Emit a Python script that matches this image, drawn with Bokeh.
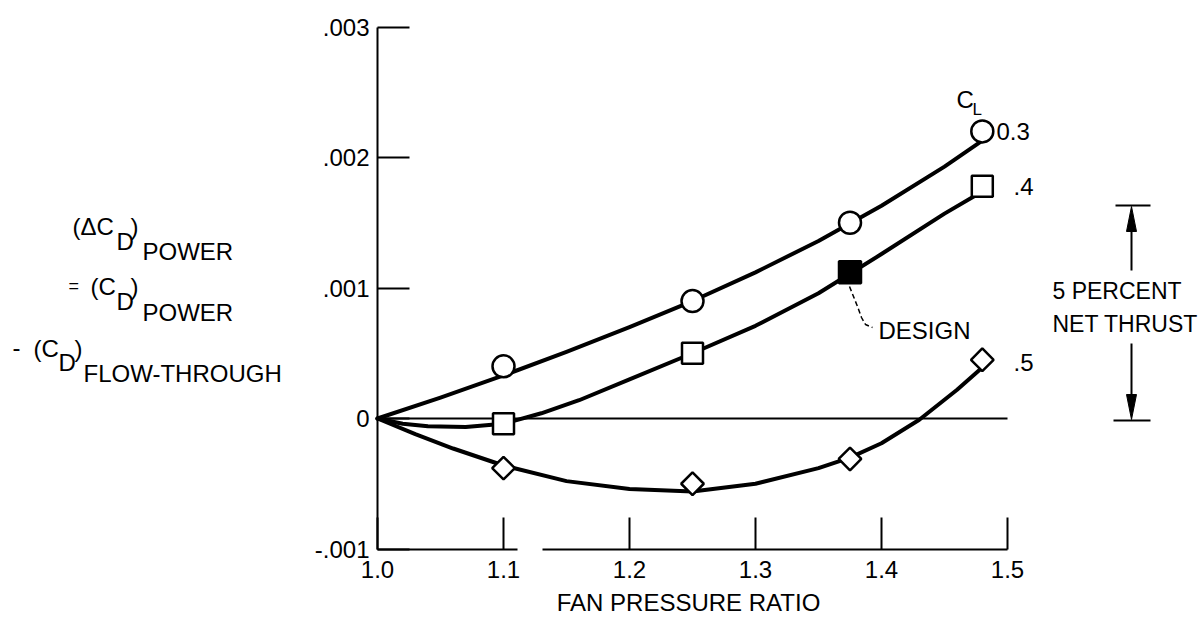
import math
from bokeh.plotting import figure
from bokeh.models import (FixedTicker, Label, BoxAnnotation, LinearAxis, Range1d,
                          CustomJSTickFormatter)
from bokeh.embed import file_html
from bokeh.resources import INLINE

# ---------------- data ----------------
fan_pressure_ratio = [1.1, 1.25, 1.375, 1.48]
cl_03_points = [0.0004, 0.0009, 0.0015, 0.0022]
cl_04_points = [-0.00004, 0.0005, 0.00112, 0.00178]
cl_05_points = [-0.00038, -0.0005, -0.00031, 0.00045]
design_x = [1.375]
design_y = [0.00112]

# faired curves
cl_03_curve_x = [1.0, 1.05, 1.1, 1.15, 1.2, 1.25, 1.3, 1.35, 1.4, 1.45, 1.48]
cl_03_curve_y = [0.0, 0.00016, 0.00033, 0.00051, 0.0007, 0.0009, 0.00112, 0.00136, 0.00163, 0.00193, 0.00213]

cl_04_curve_x = [1.0, 1.02, 1.04, 1.07, 1.1, 1.13, 1.16, 1.2, 1.25, 1.3, 1.35, 1.4, 1.45, 1.48]
cl_04_curve_y = [0.0, -0.00004, -0.00006, -0.000065, -0.00004, 0.00004, 0.00014, 0.0003, 0.0005,
                 0.00071, 0.00096, 0.00126, 0.00157, 0.00174]

cl_05_curve_x = [1.0, 1.03, 1.06, 1.1, 1.15, 1.2, 1.25, 1.3, 1.35, 1.375, 1.4, 1.43, 1.46, 1.48]
cl_05_curve_y = [0.0, -0.00012, -0.00023, -0.00036, -0.00048, -0.00054, -0.00056, -0.0005,
                 -0.00038, -0.0003, -0.00019, -0.00001, 0.00022, 0.00039]

x_ticks = [1.0, 1.1, 1.2, 1.3, 1.4, 1.5]
x_tick_labels = ["1.0", "1.1", "1.2", "1.3", "1.4", "1.5"]
y_ticks = [-0.001, 0.0, 0.001, 0.002, 0.003]
y_tick_labels = ["-.001", "0", ".001", ".002", ".003"]

# ---------------- layout ----------------
W, H = 1200, 618
PAGE_OFF = 0        # Bokeh's page template has no body margin
PX_PER_X = 1260.0
PX_PER_Y = 130500.0
X_ORIGIN_PX = 377   # page pixel of x = 1.0
Y_ZERO_PX = 418     # page pixel of y = 0
X0 = 1.0 - (X_ORIGIN_PX - PAGE_OFF) / PX_PER_X
X1 = X0 + W / PX_PER_X
Y1 = (Y_ZERO_PX - PAGE_OFF) / PX_PER_Y
Y0 = Y1 - H / PX_PER_Y


def px2x(px):
    return X0 + (px - PAGE_OFF) / PX_PER_X


def px2y(py):
    return Y1 - (py - PAGE_OFF) / PX_PER_Y


FONT = "Liberation Sans"

p = figure(width=W, height=H, x_range=Range1d(X0, X1), y_range=Range1d(Y0, Y1),
           output_backend="svg", toolbar_location=None, min_border=0,
           x_axis_location=None, y_axis_location=None)
p.outline_line_color = None
p.xgrid.visible = False
p.ygrid.visible = False
p.background_fill_color = "white"
p.border_fill_color = "white"


def fmt(tvals, tlabels):
    return CustomJSTickFormatter(args=dict(tvals=tvals, tlabels=tlabels), code="""
        for (let i = 0; i < tvals.length; i++) {
            if (Math.abs(tvals[i] - tick) < 1e-9) { return tlabels[i]; }
        }
        return '';
    """)


xaxis = LinearAxis(fixed_location=y_ticks[0], bounds=(x_ticks[0], x_ticks[-1]),
                   ticker=FixedTicker(ticks=x_ticks), formatter=fmt(x_ticks, x_tick_labels),
                   major_tick_in=32, major_tick_out=0, minor_tick_line_color=None,
                   axis_line_width=2, major_tick_line_width=2, major_label_standoff=12,
                   major_label_text_font=FONT, major_label_text_font_size="24px",
                   major_label_text_color="black", axis_line_color="black",
                   major_tick_line_color="black")
p.add_layout(xaxis, "below")

yaxis = LinearAxis(fixed_location=x_ticks[0], bounds=(y_ticks[0], y_ticks[-1]),
                   ticker=FixedTicker(ticks=y_ticks), formatter=fmt(y_ticks, y_tick_labels),
                   major_tick_in=32, major_tick_out=0, minor_tick_line_color=None,
                   axis_line_width=2, major_tick_line_width=2, major_label_standoff=8,
                   major_label_text_font=FONT, major_label_text_font_size="24px",
                   major_label_text_color="black", axis_line_color="black",
                   major_tick_line_color="black")
p.add_layout(yaxis, "left")

# break in the bottom axis line (as in the original drawing)
p.add_layout(BoxAnnotation(left=px2x(517), right=px2x(542), bottom=px2y(552), top=px2y(544),
                           fill_color="white", fill_alpha=1.0, line_color=None))

# zero reference line
p.line(x=[x_ticks[0], x_ticks[-1]], y=[0, 0], line_color="black", line_width=2)

# faired curves
for cx, cy in [(cl_03_curve_x, cl_03_curve_y), (cl_04_curve_x, cl_04_curve_y),
               (cl_05_curve_x, cl_05_curve_y)]:
    p.line(cx, cy, line_color="black", line_width=4, line_join="round", line_cap="round")

# design leader (dashed)
p.line(x=[px2x(849), px2x(857), px2x(861), px2x(865), px2x(872)],
       y=[px2y(286), px2y(306), px2y(317), px2y(324), px2y(327)],
       line_color="black", line_width=1.5, line_dash="5 3")

# markers
p.scatter(fan_pressure_ratio, cl_03_points, marker="circle", size=22,
          fill_color="white", line_color="black", line_width=2.5)
p.scatter(fan_pressure_ratio, cl_04_points, marker="square", size=21,
          fill_color="white", line_color="black", line_width=2.5)
p.scatter(design_x, design_y, marker="square", size=22,
          fill_color="black", line_color="black", line_width=2.5)
p.scatter(fan_pressure_ratio, cl_05_points, marker="square", size=16, angle=math.pi / 4,
          fill_color="white", line_color="black", line_width=2.5)


def add_text(txt, px, py, size=24, align="left"):
    p.add_layout(Label(x=px2x(px), y=px2y(py), text=txt, text_font=FONT,
                       text_font_size=f"{size}px", text_baseline="middle",
                       text_align=align, text_color="black"))


# y-axis title (multi-part with subscripts)
add_text("(\u0394C", 72, 226)
add_text("D", 116, 241)
add_text(")", 130, 226)
add_text("POWER", 142, 251)
add_text("=", 68, 285, 18)
add_text("(C", 90, 286)
add_text("D", 116, 301)
add_text(")", 130, 286)
add_text("POWER", 142, 312)
add_text("-", 12, 347)
add_text("(C", 33, 348)
add_text("D", 58, 362)
add_text(")", 74, 348)
add_text("FLOW-THROUGH", 83, 373)

# x-axis title
add_text("FAN PRESSURE RATIO", 688, 602, 24, "center")

# curve labels
add_text("C", 956, 99)
add_text("L", 972, 109, 17)
add_text("0.3", 996, 131)
add_text(".4", 1013, 186)
add_text(".5", 1013, 362)
add_text("DESIGN", 878, 330)

# 5 percent net thrust bracket
bx = 1131
p.segment(x0=[px2x(1115), px2x(1113)], y0=[px2y(205), px2y(420)],
          x1=[px2x(1150), px2x(1150)], y1=[px2y(205), px2y(420)],
          line_color="black", line_width=2)
p.segment(x0=[px2x(bx), px2x(bx)], y0=[px2y(228), px2y(343)],
          x1=[px2x(bx), px2x(bx)], y1=[px2y(270), px2y(398)],
          line_color="black", line_width=2)
p.patches(xs=[[px2x(bx), px2x(bx - 5), px2x(bx + 5)], [px2x(bx), px2x(bx - 5), px2x(bx + 5)]],
          ys=[[px2y(206), px2y(231), px2y(231)], [px2y(419), px2y(394), px2y(394)]],
          fill_color="black", line_color="black", line_width=1)
add_text("5 PERCENT", 1052, 290, 23)
add_text("NET THRUST", 1052, 323, 23)

open("out.html", "w").write(file_html(p, INLINE))
